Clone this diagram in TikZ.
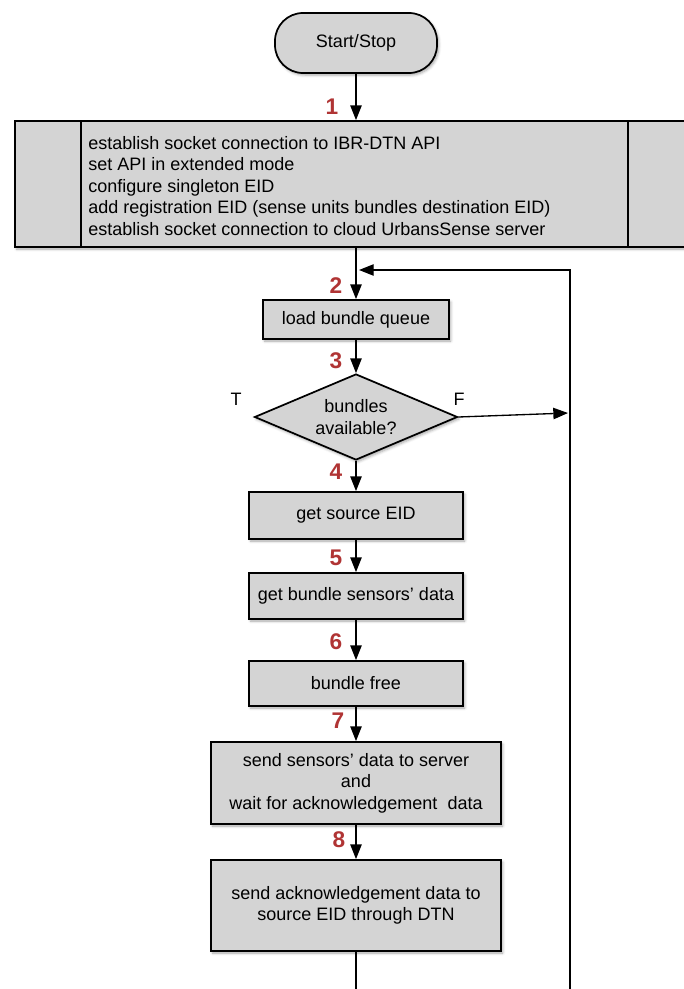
\documentclass[tikz,border=0pt]{standalone}
\usepackage{fontspec}
\setmainfont{Liberation Sans}
\usetikzlibrary{shapes.geometric,arrows.meta,shadows.blur}
\definecolor{boxgray}{RGB}{212,212,212}
\definecolor{stepred}{RGB}{176,52,52}
\begin{document}
\begin{tikzpicture}[x=0.75pt,y=-0.75pt,
  every node/.style={font=\fontsize{13.5}{16.1}\selectfont},
  box/.style={draw=black, line width=1.3pt, fill=boxgray, inner sep=0pt, align=center,
    blur shadow={shadow xshift=1.2pt, shadow yshift=-1.5pt, shadow blur radius=2pt, shadow opacity=35}},
  decision/.style={box, diamond},
  num/.style={text=stepred, font=\fontsize{17}{19}\selectfont\bfseries, inner sep=0pt},
  edge/.style={draw=black, line width=1pt},
  arr/.style={edge, -{Triangle[length=11pt,width=8.5pt]}}
]
\useasboundingbox (0,0) rectangle (683,989);

% terminal
\node[box, rounded corners=21pt, minimum width=121.5pt, minimum height=45pt] (start) at (356,43) {Start/Stop};

% initialisation block with side bars
\node[box, minimum width=506.25pt, minimum height=94.5pt] (big) at (352.5,184) {};
\draw[edge, line width=1.3pt] ([xshift=50.25pt]big.north west) -- ([xshift=50.25pt]big.south west);
\draw[edge, line width=1.3pt] ([xshift=-47.25pt]big.north east) -- ([xshift=-47.25pt]big.south east);
\node[anchor=west, align=left, inner sep=0pt] (bigtxt) at (88,186) {establish socket connection to IBR-DTN API\\
set API in extended mode\\
configure singleton EID\\
add registration EID (sense units bundles destination EID)\\
establish socket connection to cloud UrbansSense server};

% loop body
\node[box, minimum width=139.5pt, minimum height=29.25pt] (load) at (356,319.5) {load bundle queue};
\node[decision, minimum width=152.25pt, minimum height=64.5pt] (dec) at (356,417) {};
\node[align=center, inner sep=0pt] (dectxt) at (356,417) {bundles\\available?};
\node[box, minimum width=160.5pt, minimum height=35.25pt] (src) at (356,515.5) {get source EID};
\node[box, minimum width=160.5pt, minimum height=34.5pt] (sens) at (356,596) {get bundle sensors’ data};
\node[box, minimum width=160.5pt, minimum height=33.75pt] (free) at (356,683.5) {bundle free};
\node[box, minimum width=217.5pt, minimum height=61.5pt] (send) at (356,783) {send sensors’ data to server\\and\\wait for acknowledgement\ \ data};
\node[box, minimum width=217.5pt, minimum height=68.25pt] (ack) at (356,905.5) {send acknowledgement data to\\source EID through DTN};

% branch labels
\node (lt) at (236,399) {T};
\node (lf) at (459,399) {F};

% step numbers
\node[num] (n1) at (332,107) {1};
\node[num] (n2) at (336,286) {2};
\node[num] (n3) at (336,361) {3};
\node[num] (n4) at (336,472) {4};
\node[num] (n5) at (336,558) {5};
\node[num] (n6) at (336,642) {6};
\node[num] (n7) at (338,721) {7};
\node[num] (n8) at (339,840) {8};

% connectors
\coordinate (rail) at (570,270);
\coordinate (loopin) at (359,270);
\coordinate (fin) at (568,413);
\draw[arr] (start.south) -- (start.south |- big.north);
\draw[arr] (start.south |- big.south) -- (load.north);
\draw[arr] (load.south) -- (dec.north);
\draw[arr] (dec.south) -- (src.north);
\draw[arr] (src.south) -- (sens.north);
\draw[arr] (sens.south) -- (free.north);
\draw[arr] (free.south) -- (send.north);
\draw[arr] (send.south) -- (ack.north);
\draw[arr] (dec.east) -- (fin);
\draw[arr] (ack.south) -- ++(0,60) -| (rail) -- (loopin);
\end{tikzpicture}
\end{document}
